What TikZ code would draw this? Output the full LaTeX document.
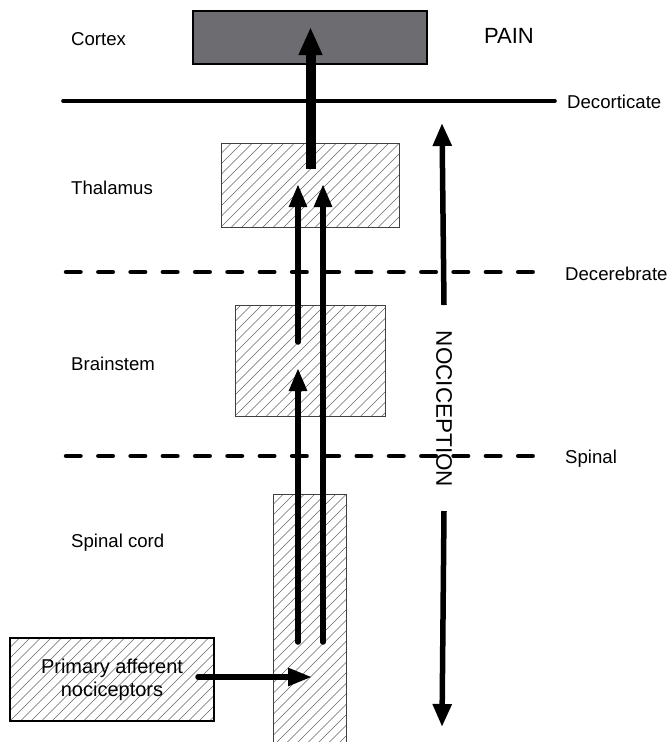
\documentclass[tikz,border=0pt]{standalone}
\usepackage{fontspec}
\setmainfont{Liberation Sans}
\usetikzlibrary{arrows.meta}
\definecolor{cortexgray}{RGB}{108,108,113}
\begin{document}
\begin{tikzpicture}[x=1pt,y=-1pt,
  lbl/.style={inner sep=0pt, anchor=base west, font=\fontsize{18.6}{22}\selectfont},
  hatched/.style={draw=black!75, line width=0.9pt, inner sep=0pt,
    path picture={\foreach \k in {-40,...,40}{\draw[black!60, line width=0.6pt]
      ([xshift=\k*10.5pt]path picture bounding box.south west) -- ++(400pt,400pt);}}},
  cortexbox/.style={draw=black, line width=1.2pt, fill=cortexgray, inner sep=0pt},
  upthin/.style={line width=5.5pt, line cap=round, -{Triangle[length=23pt,width=17pt]}},
  levelsolid/.style={line width=3.6pt, line cap=round},
  leveldash/.style={line width=4.5pt, line cap=round, dash pattern=on 14.5pt off 17.8pt},
  nocarrow/.style={line width=5.5pt, -{Triangle[length=23pt,width=18pt]}}
]
\useasboundingbox (0,0) rectangle (671,742);

% boxes
\node[cortexbox, minimum width=234pt, minimum height=53pt] (cortex) at (310,37.5) {};
\node[hatched, minimum width=178pt, minimum height=84pt] (thal) at (310,185) {};
\node[hatched, minimum width=150pt, minimum height=111pt] (brain) at (310,360.5) {};
\node[hatched, minimum width=73pt, minimum height=252pt] (cord) at (309.5,620) {};
\node[hatched, minimum width=204pt, minimum height=83pt, align=center,
      font=\fontsize{20}{23}\selectfont, line width=1.3pt, draw=black] (paff) at (112,679.5)
      {Primary afferent\\nociceptors};

% level lines
\coordinate (decoL) at (63,101);   \coordinate (decoR) at (555,101);
\coordinate (decerL) at (66,272);  \coordinate (decerR) at (540,272);
\coordinate (spinL) at (66,456);   \coordinate (spinR) at (540,456);
\draw[levelsolid] (decoL) -- (decoR);
\draw[leveldash] (decerL) -- (decerR);
\draw[leveldash] (spinL) -- (spinR);

% labels
\node[lbl] (lcortex) at (71,45) {Cortex};
\node[lbl] (lthal) at (71,194) {Thalamus};
\node[lbl] (lbrain) at (71,370) {Brainstem};
\node[lbl] (lcord) at (71,547) {Spinal cord};
\node[lbl] (ldeco) at (567,108) {Decorticate};
\node[lbl] (ldecer) at (565,280) {Decerebrate};
\node[lbl] (lspin) at (565,463) {Spinal};
\node[inner sep=0pt, anchor=base, font=\fontsize{22}{26}\selectfont] (pain) at (509,43) {PAIN};

% pathway arrows
\coordinate (thalOut) at (310.5,169);
\coordinate (cortexIn) at (310.5,27);
\draw[line width=10pt, -{Triangle[length=28pt,width=22pt]}] (thalOut) -- (cortexIn);

\coordinate (cordL) at (298,642);  \coordinate (brainIn) at (298,368);
\coordinate (brainOut) at (298,342); \coordinate (thalInL) at (298,184);
\coordinate (cordR) at (323,642);  \coordinate (thalInR) at (323,184);
\draw[upthin] (cordL) -- (brainIn);
\draw[upthin] (brainOut) -- (thalInL);
\draw[upthin] (cordR) -- (thalInR);

\coordinate (paffOut) at (198,677); \coordinate (cordIn) at (312,677);
\draw[line width=5.5pt, line cap=round, -{Triangle[length=24pt,width=17pt]}] (paffOut) -- (cordIn);

% nociception
\node[inner sep=0pt, rotate=-90, font=\fontsize{22.5}{26}\selectfont] (noc) at (444,409) {NOCICEPTION};
\coordinate (nocTop) at (442,123); \coordinate (nocBot) at (442,727);
\draw[nocarrow] (noc.east |- 0,305) -- (nocTop);
\draw[nocarrow] (noc.west |- 0,511) -- (nocBot);
\end{tikzpicture}
\end{document}
